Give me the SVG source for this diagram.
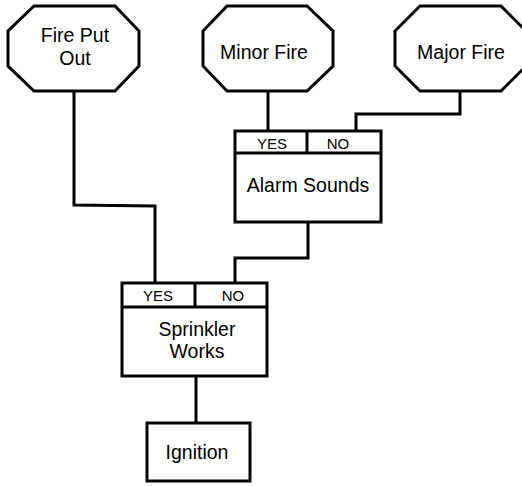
<svg xmlns="http://www.w3.org/2000/svg" width="522" height="486" viewBox="0 0 522 486">
<style>
.s{fill:#fff;stroke:#000;stroke-width:3;stroke-linejoin:miter}
.l{fill:none;stroke:#000;stroke-width:3}
.t{font-family:"Liberation Sans",Arial,sans-serif;font-size:19.5px;fill:#000;text-anchor:middle}
.h{font-family:"Liberation Sans",Arial,sans-serif;font-size:15px;fill:#000;text-anchor:middle}
</style>
<rect width="522" height="486" fill="#fff"/>
<g id="connectors">
<polyline class="l" points="74,91 74,205 155,206 155,283"/>
<polyline class="l" points="268,91 268,131"/>
<polyline class="l" points="460,91 460,114 356,114 356,131"/>
<polyline class="l" points="308,222 308,258 235,258 235,283"/>
<polyline class="l" points="196,376 196,423"/>
</g>
<g id="fire-put-out">
<polygon class="s" points="34,6 115,6 139,31 139,66 115,91 34,91 8,66 8,31"/>
<text class="t" x="75" y="42">Fire Put</text>
<text class="t" x="75" y="65">Out</text>
</g>
<g id="minor-fire">
<polygon class="s" points="227,6 307,6 333,31 333,66 307,91 227,91 203,66 203,31"/>
<text class="t" x="264" y="59">Minor Fire</text>
</g>
<g id="major-fire">
<polygon class="s" points="420,6 501,6 526,31 526,66 501,91 420,91 395,66 395,31"/>
<text class="t" x="461" y="59">Major Fire</text>
</g>
<g id="alarm-sounds">
<rect class="s" x="235" y="131" width="146" height="91"/>
<line class="l" x1="235" y1="153" x2="381" y2="153"/>
<line class="l" x1="307" y1="131" x2="307" y2="153"/>
<text class="h" x="272" y="149">YES</text>
<text class="h" x="338" y="149">NO</text>
<text class="t" x="308" y="192">Alarm Sounds</text>
</g>
<g id="sprinkler-works">
<rect class="s" x="122" y="283" width="145" height="93"/>
<line class="l" x1="122" y1="307" x2="267" y2="307"/>
<line class="l" x1="195" y1="283" x2="195" y2="307"/>
<text class="h" x="158" y="301">YES</text>
<text class="h" x="233" y="301">NO</text>
<text class="t" x="197" y="336">Sprinkler</text>
<text class="t" x="197" y="358">Works</text>
</g>
<g id="ignition">
<rect class="s" x="147" y="423" width="103" height="58"/>
<text class="t" x="197" y="459">Ignition</text>
</g>
</svg>
